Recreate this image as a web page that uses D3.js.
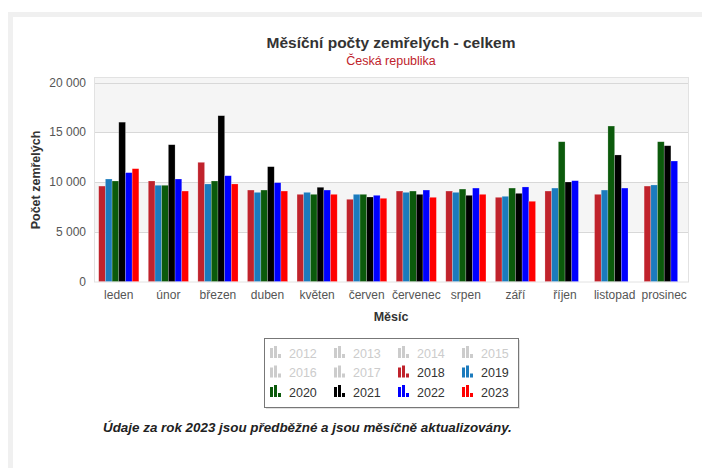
<!DOCTYPE html>
<html><head><meta charset="utf-8">
<script src="https://cdn.jsdelivr.net/npm/d3@7"></script>
<style>
html,body{margin:0;padding:0;background:#fff;}
svg{display:block;font-family:"Liberation Sans",Arial,sans-serif;}
</style></head>
<body>
<svg id="c" width="702" height="468"></svg>
<script>
const months = ["leden","únor","březen","duben","květen","červen","červenec","srpen","září","říjen","listopad","prosinec"];
const years = ["2018","2019","2020","2021","2022","2023"];
const colors = ["#c0232c","#1b7bbd","#0b5a0b","#000000","#0000ff","#ff0000"];
const v2018 = [9600,10110,11990,9200,8770,8270,9100,9100,8470,9100,8770,9600];
const v2019 = [10310,9680,9810,8970,8970,8770,8970,8970,8570,9400,9200,9710];
const v2020 = [10110,9680,10110,9200,8770,8770,9100,9300,9400,14060,15640,14060];
const v2021 = [16030,13760,16680,11550,9480,8500,8770,8670,8870,10010,12730,13660];
const v2022 = [10950,10310,10640,9940,9200,8670,9200,9400,9510,10140,9400,12120];
const v2023 = [11350,9100,9810,9100,8770,8370,8470,8770,8070,null,null,null];
const series = [v2018,v2019,v2020,v2021,v2022,v2023];
const yTicks = [0,5000,10000,15000,20000];
const legendYears = ["2012","2013","2014","2015","2016","2017","2018","2019","2020","2021","2022","2023"];
const legendColors = ["#cccccc","#cccccc","#cccccc","#cccccc","#cccccc","#cccccc","#c0232c","#1b7bbd","#0b5a0b","#000000","#0000ff","#ff0000"];
const legendActive = [false,false,false,false,false,false,true,true,true,true,true,true];

const svg = d3.select("#c");
// frame
svg.append("rect").attr("x",8).attr("y",12).attr("width",694).attr("height",456).attr("fill","#f0f0f0");
svg.append("rect").attr("x",13).attr("y",17).attr("width",689).attr("height",451).attr("fill","#fff");

const plotL=94, plotR=689, plotT=77, plotB=281.5;
const x = d3.scaleBand().domain(months).range([plotL,plotR]);
const y = d3.scaleLinear().domain([0,20000]).range([plotB,82.7]);
const bw = x.bandwidth();
const xi = d3.scaleBand().domain(years).range([bw*0.095, bw*0.905]);

// alternate bands
svg.append("rect").attr("x",plotL).attr("y",plotT).attr("width",plotR-plotL).attr("height",y(15000)-plotT).attr("fill","#f5f5f5");
svg.append("rect").attr("x",plotL).attr("y",y(10000)).attr("width",plotR-plotL).attr("height",y(5000)-y(10000)).attr("fill","#f5f5f5");

// gridlines
svg.append("g").selectAll("line").data(yTicks.slice(1)).join("line")
  .attr("x1",plotL).attr("x2",plotR).attr("y1",d=>Math.round(y(d))+0.5).attr("y2",d=>Math.round(y(d))+0.5)
  .attr("stroke","#d8d8d8").attr("stroke-width",1);
// plot border
svg.append("rect").attr("x",plotL+0.5).attr("y",plotT+0.5).attr("width",plotR-plotL-1).attr("height",plotB-plotT)
  .attr("fill","none").attr("stroke","#e2e2e2");

// y axis labels
const fmt = d => d===0 ? "0" : d3.format(",")(d).replace(/,/g," ");
svg.append("g").selectAll("text").data(yTicks).join("text")
  .attr("x",86).attr("y",d=>y(d)+4).attr("text-anchor","end")
  .attr("font-size",12).attr("fill","#555").text(fmt);

// bars
const g = svg.append("g");
series.forEach((vals,si)=>{
  g.append("g").selectAll("rect").data(months.map((m,i)=>({m,v:vals[i]})).filter(d=>d.v!=null)).join("rect")
    .attr("x",d=>x(d.m)+xi(years[si]))
    .attr("y",d=>y(d.v))
    .attr("width",xi.bandwidth())
    .attr("height",d=>plotB-y(d.v))
    .attr("fill",colors[si])
    .attr("stroke","#fff").attr("stroke-opacity",0.35).attr("stroke-width",0.6);
});

// x axis labels
svg.append("g").selectAll("text").data(months).join("text")
  .attr("x",d=>x(d)+bw/2).attr("y",299).attr("text-anchor","middle")
  .attr("font-size",12).attr("fill","#555").text(d=>d);

// axis titles
svg.append("text").attr("x",391).attr("y",321).attr("text-anchor","middle")
  .attr("font-size",12.5).attr("font-weight","bold").attr("fill","#333").text("Měsíc");
svg.append("text").attr("transform","translate(40,180) rotate(-90)").attr("text-anchor","middle")
  .attr("font-size",12.5).attr("font-weight","bold").attr("fill","#333").text("Počet zemřelých");

// titles
svg.append("text").attr("x",391).attr("y",48).attr("text-anchor","middle")
  .attr("font-size",15.5).attr("font-weight","bold").attr("fill","#333").text("Měsíční počty zemřelých - celkem");
svg.append("text").attr("x",391).attr("y",65).attr("text-anchor","middle")
  .attr("font-size",12.5).attr("fill","#c0232c").text("Česká republika");

// legend
const lg = svg.append("g");
lg.append("rect").attr("x",266).attr("y",340).attr("width",254).attr("height",69).attr("fill","#888").attr("opacity",0.25);
lg.append("rect").attr("x",264.5).attr("y",338.5).attr("width",254).attr("height",69).attr("fill","#fff").attr("stroke","#777");
legendYears.forEach((yr,i)=>{
  const col=i%4, row=Math.floor(i/4);
  const lx=270+col*64, ly=353+row*19.5;
  const ic = lg.append("g").attr("transform",`translate(${lx},${ly})`);
  ic.append("rect").attr("x",0).attr("y",-5).attr("width",3).attr("height",10).attr("fill",legendColors[i]);
  ic.append("rect").attr("x",4).attr("y",-7).attr("width",3).attr("height",12).attr("fill",legendColors[i]);
  ic.append("rect").attr("x",8).attr("y",1).attr("width",3).attr("height",4).attr("fill",legendColors[i]);
  lg.append("text").attr("x",lx+19).attr("y",ly+4.5).attr("font-size",12.5)
    .attr("fill",legendActive[i]?"#333":"#cccccc").text(yr);
});

// footnote
svg.append("text").attr("x",103).attr("y",432).attr("font-size",13.4).attr("font-style","italic")
  .attr("font-weight","bold").attr("fill","#222").text("Údaje za rok 2023 jsou předběžné a jsou měsíčně aktualizovány.");
</script>
</body></html>
